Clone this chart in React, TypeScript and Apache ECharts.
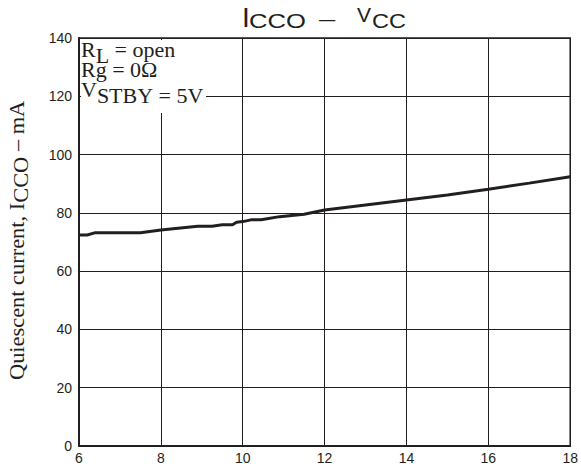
import React, { useEffect, useRef } from 'react';
import * as echarts from 'echarts';

// ---- data ----
const vccValues = [6, 6.2, 6.4, 7.5, 8, 8.9, 9.25, 9.5, 9.75, 9.85, 10, 10.2, 10.45, 10.9, 11.5, 12, 13, 14, 15, 16, 17, 18];
const iccoValues = [72.4, 72.4, 73.2, 73.2, 74.1, 75.4, 75.4, 75.9, 75.9, 76.8, 77.0, 77.6, 77.6, 78.7, 79.5, 81.0, 82.7, 84.4, 86.1, 88.1, 90.2, 92.4];

const xMin = 6;
const xMax = 18;
const xStep = 2;
const yMin = 0;
const yMax = 140;
const yStep = 20;

// text runs: [text, isShifted(subscript)]
const titleLeft = ['I', 'CCO'];
const titleDash = '–';
const titleRight = ['V', 'CC'];
const condLine1: [string, number][] = [['R', 0], ['L', 1], [' = open', 0]];
const condLine2: [string, number][] = [['Rg = 0Ω', 0]];
const condLine3: [string, number][] = [['V', 0], ['STBY', 1], [' = 5V', 1]];
const yLabelRuns: [string, number][] = [['Quiescent current, I', 0], ['CCO', 1], [' – mA', 0]];

const SERIF = '"Liberation Serif", "Times New Roman", serif';
const SANS = '"Liberation Sans", Arial, Helvetica, sans-serif';
const INK = '#231f20';

function buildRun(
  ctx: CanvasRenderingContext2D,
  runs: [string, number][],
  x0: number,
  y0: number,
  size: number,
  scaleX: number,
  shift: number,
  rotated: boolean
) {
  const els: any[] = [];
  let cursor = 0;
  const font = `${size}px ${SERIF}`;
  ctx.font = font;
  runs.forEach(([t, sub]) => {
    const w = ctx.measureText(t).width * scaleX;
    const dy = sub ? shift : 0;
    els.push({
      type: 'text',
      x: rotated ? x0 + dy : x0 + cursor,
      y: rotated ? y0 - cursor : y0 + dy,
      rotation: rotated ? Math.PI / 2 : 0,
      scaleX,
      silent: true,
      z: 11,
      style: {
        text: t,
        font,
        fill: INK,
        align: 'left',
        verticalAlign: 'middle',
      },
    });
    cursor += w;
  });
  return els;
}

export default function App() {
  const ref = useRef<HTMLDivElement>(null);

  useEffect(() => {
    if (!ref.current) return;
    const chart = echarts.init(ref.current, undefined, { renderer: 'svg' });
    const canvas = document.createElement('canvas');
    const ctx = canvas.getContext('2d') as CanvasRenderingContext2D;

    const titleFont = (s: number) => `${s}px ${SANS}`;
    const titleEls: any[] = [
      { type: 'text', x: 242, y: 17, z: 11, silent: true, style: { text: titleLeft[0], font: titleFont(28), fill: INK, align: 'left', verticalAlign: 'middle' } },
      { type: 'text', x: 249, y: 21, scaleX: 1.22, z: 11, silent: true, style: { text: titleLeft[1], font: titleFont(21), fill: INK, align: 'left', verticalAlign: 'middle' } },
      { type: 'text', x: 319, y: 19, scaleX: 1.4, z: 11, silent: true, style: { text: titleDash, font: titleFont(21), fill: INK, align: 'left', verticalAlign: 'middle' } },
      { type: 'text', x: 357, y: 14.5, z: 11, silent: true, style: { text: titleRight[0], font: titleFont(21), fill: INK, align: 'left', verticalAlign: 'middle' } },
      { type: 'text', x: 372, y: 21, scaleX: 1.12, z: 11, silent: true, style: { text: titleRight[1], font: titleFont(21), fill: INK, align: 'left', verticalAlign: 'middle' } },
    ];

    const condEls = [
      ...buildRun(ctx, condLine1, 81, 50.5, 20, 1.1, 5.7, false),
      ...buildRun(ctx, condLine2, 81, 70.5, 20, 1.1, 0, false),
      ...buildRun(ctx, condLine3, 81, 90.5, 20, 1.1, 6, false),
    ];

    const yLabelEls = buildRun(ctx, yLabelRuns, 17, 380, 20, 1.12, 4, true);

    const data = vccValues.map((v, i) => [v, iccoValues[i]]);

    chart.setOption({
      animation: false,
      grid: {
        left: 79,
        right: 10,
        top: 38,
        bottom: 24,
        show: true,
        borderColor: INK,
        borderWidth: 1.5,
        backgroundColor: 'transparent',
      },
      xAxis: {
        type: 'value',
        min: xMin,
        max: xMax,
        interval: xStep,
        axisLine: { show: true, onZero: false, lineStyle: { color: INK, width: 2 } },
        axisTick: { show: false },
        splitLine: { show: true, lineStyle: { color: INK, width: 1 } },
        axisLabel: { fontFamily: SANS, fontSize: 14, color: INK, margin: 5 },
      },
      yAxis: {
        type: 'value',
        min: yMin,
        max: yMax,
        interval: yStep,
        axisLine: { show: true, onZero: false, lineStyle: { color: INK, width: 2 } },
        axisTick: { show: false },
        splitLine: { show: true, lineStyle: { color: INK, width: 1 } },
        axisLabel: { fontFamily: SANS, fontSize: 14, color: INK, margin: 7 },
      },
      series: [
        {
          type: 'line',
          data,
          showSymbol: false,
          symbol: 'none',
          z: 5,
          lineStyle: { color: INK, width: 3 },
        },
      ],
      graphic: [
        {
          type: 'rect',
          silent: true,
          z: 10,
          shape: { x: 81, y: 40, width: 125, height: 73 },
          style: { fill: '#ffffff' },
        },
        ...condEls,
        ...titleEls,
        ...yLabelEls,
      ],
    });

    return () => {
      chart.dispose();
    };
  }, []);

  return (
    <div
      ref={ref}
      style={{ position: 'absolute', left: 0, top: 0, width: 581, height: 470, background: '#fff' }}
    />
  );
}
